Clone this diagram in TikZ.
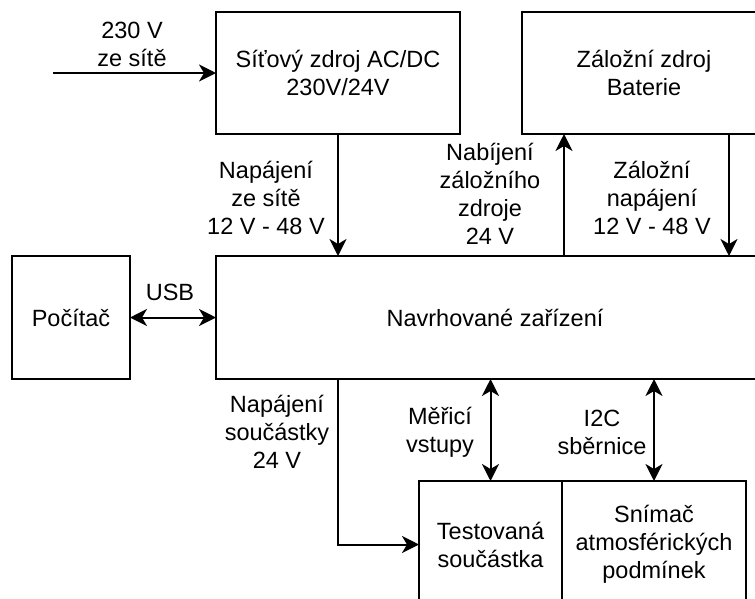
\documentclass[tikz,border=0pt]{standalone}
\usepackage{fontspec}
\setmainfont{Liberation Sans}
\usepackage{tikz}
\usetikzlibrary{arrows.meta,positioning,calc}

\begin{document}
\begin{tikzpicture}[x=1pt,y=-1pt,
    block/.style={draw, line width=2pt, inner sep=0pt, outer sep=0pt, align=center, font=\fontsize{23.5}{28}\selectfont},
    lbl/.style={align=center, inner sep=0pt, font=\fontsize{23.5}{28}\selectfont},
    conn/.style={line width=2pt, -{Stealth[length=17pt,width=17pt,inset=5pt]}},
    bidir/.style={line width=2pt, {Stealth[length=17pt,width=17pt,inset=5pt]}-{Stealth[length=17pt,width=17pt,inset=5pt]}}]
        \useasboundingbox (0,0) rectangle (755,598);
        \clip (0,0) rectangle (755,598);
        \node[block, minimum width=244pt, minimum height=122pt] (sit) at (338,73) {Síťový zdroj AC/DC\\230V/24V};
        \node[block, minimum width=244pt, minimum height=122pt] (bat) at (644,73) {Záložní zdroj\\Baterie};
        \node[block, minimum width=118pt, minimum height=123pt] (pc) at (71,317.5) {Počítač};
        \node[block, minimum width=558pt, minimum height=123pt] (dev) at (495,317.5) {Navrhované zařízení};
        \node[block, minimum width=143pt, minimum height=127pt] (dut) at (490.5,544.5) {Testovaná\\součástka};
        \node[block, minimum width=184pt, minimum height=127pt] (sen) at (654,544.5) {Snímač\\atmosférických\\podmínek};
        \coordinate (in) at (53,73);
        \coordinate (chg) at (564,0);
        \coordinate (bk) at (729,0);
        \draw[conn] (in) -- (sit.west);
        \draw[conn] (sit.south) -- (dev.north -| sit.south);
        \draw[bidir] (pc.east) -- (dev.west);
        \draw[conn] (dev.north -| chg) -- (bat.south -| chg);
        \draw[conn] (bat.south -| bk) -- (dev.north -| bk);
        \draw[conn] (dev.south -| sit.south) |- (dut.west);
        \draw[bidir] (dev.south -| dut.north) -- (dut.north);
        \draw[bidir] (dev.south -| sen.north) -- (sen.north);
        \node[lbl] (l230) at (132,44) {230 V\\ze sítě};
        \node[lbl] (lsit) at (266,198) {Napájení\\ze sítě\\12 V - 48 V};
        \node[lbl] (lchg) at (490,194) {Nabíjení\\záložního\\zdroje\\24 V};
        \node[lbl] (lbk) at (652,198) {Záložní\\napájení\\12 V - 48 V};
        \node[lbl] (lusb) at (170,292) {USB};
        \node[lbl] (ldut) at (277,432) {Napájení\\součástky\\24 V};
        \node[lbl] (lmer) at (440,432) {Měřicí\\vstupy};
        \node[lbl] (li2c) at (602,432) {I2C\\sběrnice};
      \end{tikzpicture}
\end{document}
